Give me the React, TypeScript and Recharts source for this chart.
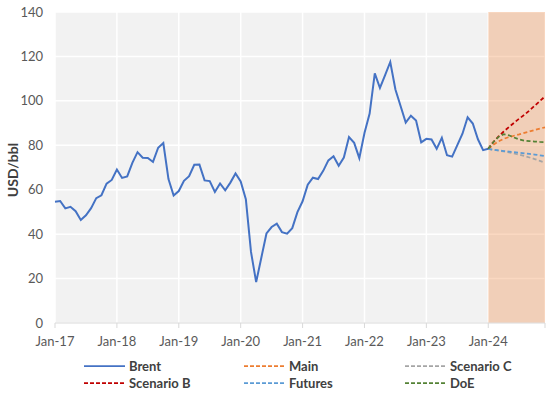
import { LineChart, Line, XAxis, YAxis, CartesianGrid, ReferenceArea } from 'recharts';

// Monthly Brent, Jan-17 .. Jan-24
const brent = [
  54.6, 54.9, 51.6, 52.3, 50.3, 46.4, 48.5, 51.7, 56.2, 57.5, 62.7, 64.4,
  69.1, 65.3, 66.0, 72.1, 76.9, 74.4, 74.3, 72.5, 78.9, 81.0, 64.8, 57.4,
  59.4, 64.0, 66.1, 71.2, 71.3, 64.2, 63.9, 59.0, 62.8, 59.7, 63.2, 67.3,
  63.7, 55.7, 32.0, 18.4, 29.4, 40.3, 43.2, 44.7, 40.9, 40.2, 42.7, 49.9,
  54.8, 62.3, 65.4, 64.8, 68.5, 73.2, 75.1, 70.8, 74.5, 83.7, 81.1, 74.2,
  85.5, 94.3, 112.4, 105.8, 111.6, 117.5, 105.1, 97.7, 90.2, 93.3, 91.1, 81.3,
  82.9, 82.6, 78.4, 83.4, 75.5, 74.9, 80.1, 85.2, 92.6, 89.8, 82.7, 77.8,
  78.4,
];

// Forecasts, Jan-24 .. Dec-24
const mainCase = [78.4, 80.2, 81.8, 82.9, 83.7, 84.3, 84.9, 85.6, 86.2, 86.9, 87.5, 88.1];
const scenarioB = [78.4, 81.5, 84.0, 86.2, 88.2, 90.1, 92.0, 93.7, 95.7, 97.8, 99.9, 102.0];
const scenarioC = [78.4, 78.0, 77.6, 77.2, 76.8, 76.3, 75.8, 75.2, 74.5, 73.8, 73.0, 72.2];
const futures = [78.4, 78.0, 77.7, 77.4, 77.2, 76.9, 76.7, 76.4, 76.1, 75.8, 75.5, 75.2];
const doe = [78.4, 81.5, 83.8, 85.0, 84.5, 83.5, 82.6, 82.1, 81.9, 81.7, 81.5, 81.4];

const tickLabels = ['Jan-17', 'Jan-18', 'Jan-19', 'Jan-20', 'Jan-21', 'Jan-22', 'Jan-23', 'Jan-24'];
const forecastStart = brent.length - 1;
const lastMonth = forecastStart + mainCase.length - 1;

const data = Array.from({ length: lastMonth + 1 }, (_, m) => {
  const f = m - forecastStart;
  return {
    m,
    brent: m < brent.length ? brent[m] : null,
    main: f >= 0 ? mainCase[f] : null,
    scenB: f >= 0 ? scenarioB[f] : null,
    scenC: f >= 0 ? scenarioC[f] : null,
    futures: f >= 0 ? futures[f] : null,
    doe: f >= 0 ? doe[f] : null,
  };
});

const series = [
  { key: 'brent', name: 'Brent', color: '#4472C4', dash: undefined },
  { key: 'main', name: 'Main', color: '#ED7D31', dash: '4 2.5' },
  { key: 'scenC', name: 'Scenario C', color: '#A5A5A5', dash: '4 2.5' },
  { key: 'scenB', name: 'Scenario B', color: '#C00000', dash: '4 2.5' },
  { key: 'futures', name: 'Futures', color: '#5B9BD5', dash: '4 2.5' },
  { key: 'doe', name: 'DoE', color: '#548235', dash: '4 2.5' },
];

const xTicks = [...tickLabels.map((_, i) => i * 12), lastMonth];
const font = 'Lato, "Open Sans", sans-serif';

export default function App() {
  return (
    <div style={{ position: 'absolute', left: 0, top: 0, width: 550, height: 395, background: '#fff', fontFamily: font }}>
      <LineChart width={550} height={395} data={data} margin={{ top: 12, right: 5, bottom: 42, left: 0 }}>
        <CartesianGrid stroke="#FFFFFF" strokeWidth={1.5} fill="#F2F2F2" />
        <ReferenceArea x1={forecastStart} x2={lastMonth} fill="#ED7D31" fillOpacity={0.3} stroke="none" />
        <XAxis
          dataKey="m"
          type="number"
          domain={[0, lastMonth]}
          ticks={xTicks}
          tickFormatter={(v: number) => tickLabels[v / 12] ?? ''}
          stroke="#D9D9D9"
          tickSize={5}
          tickMargin={9}
          tick={{ fill: '#595959', fontSize: 13, fontFamily: font }}
        />
        <YAxis
          domain={[0, 140]}
          ticks={[0, 20, 40, 60, 80, 100, 120, 140]}
          width={55}
          axisLine={false}
          tickLine={false}
          tickSize={0}
          tickMargin={12}
          tick={{ fill: '#595959', fontSize: 13, fontFamily: font }}
        />
        {series.map(s => (
          <Line
            key={s.key}
            dataKey={s.key}
            name={s.name}
            stroke={s.color}
            strokeWidth={s.dash ? 1.75 : 2}
            strokeDasharray={s.dash}
            dot={false}
            connectNulls={false}
            isAnimationActive={false}
          />
        ))}
      </LineChart>

      <div
        style={{
          position: 'absolute', left: 12, top: 170, transform: 'translate(-50%, -50%) rotate(-90deg)',
          fontSize: 14, fontWeight: 700, color: '#404040', whiteSpace: 'nowrap',
        }}
      >
        USD/bbl
      </div>

      {/* Legend */}
      {series.map((s, i) => {
        const col = [84, 244, 405][i % 3];
        const row = [366, 383][Math.floor(i / 3)];
        return (
          <div key={s.key} style={{ position: 'absolute', left: col, top: row - 9, height: 18, display: 'flex', alignItems: 'center' }}>
            <svg width={41} height={4}>
              <line x1={0} y1={2} x2={41} y2={2} stroke={s.color} strokeWidth={1.75} strokeDasharray={s.dash ? '4 2' : undefined} />
            </svg>
            <span style={{ marginLeft: 4, fontSize: 13, fontWeight: 700, color: '#404040' }}>{s.name}</span>
          </div>
        );
      })}
    </div>
  );
}
